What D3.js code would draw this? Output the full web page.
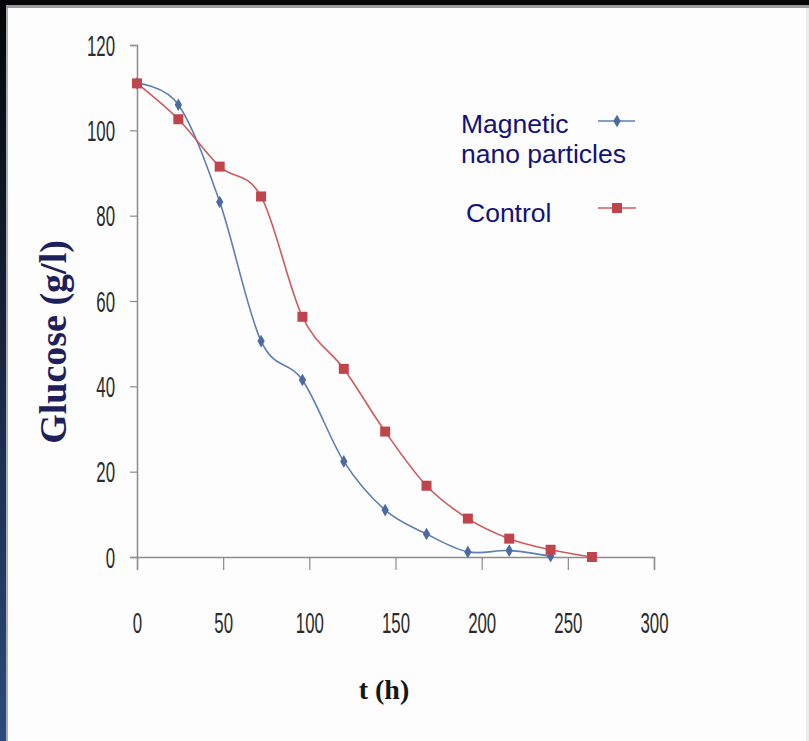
<!DOCTYPE html>
<html>
<head>
<meta charset="utf-8">
<script src="https://cdn.jsdelivr.net/npm/d3@7"></script>
<style>
  html, body { margin: 0; padding: 0; background: #ffffff; }
  svg { display: block; }
</style>
</head>
<body>
<svg id="chart" width="809" height="741"></svg>
<script>
// ---- data ----
const hoursMagnetic = [0, 24, 48, 72, 96, 120, 144, 168, 192, 216, 240];
const magnetic = [111, 106, 83.2, 50.6, 41.5, 22.4, 11, 5.4, 1.2, 1.5, 0.2];
const hoursControl = [0, 24, 48, 72, 96, 120, 144, 168, 192, 216, 240, 264];
const control = [111, 102.6, 91.5, 84.5, 56.3, 44.1, 29.4, 16.7, 9, 4.3, 1.7, 0];
const xTicks = [0, 50, 100, 150, 200, 250, 300];
const yTicks = [0, 20, 40, 60, 80, 100, 120];
const seriesNames = ["Magnetic", "nano particles", "Control"];

const svg = d3.select("#chart");
const W = 809, H = 741;

// ---- frame (slide border) ----
const defs = svg.append("defs");
const lg = defs.append("linearGradient").attr("id", "leftBand")
  .attr("x1", 0).attr("y1", 0).attr("x2", 0).attr("y2", 1);
lg.append("stop").attr("offset", "0%").attr("stop-color", "#050505");
lg.append("stop").attr("offset", "100%").attr("stop-color", "#2c4a7c");
svg.append("rect").attr("x", 0).attr("y", 0).attr("width", W).attr("height", H).attr("fill", "#fdfdfd");
svg.append("rect").attr("x", 0).attr("y", 0).attr("width", W).attr("height", 5).attr("fill", "#060606");
svg.append("rect").attr("x", 0).attr("y", 5).attr("width", W).attr("height", 3).attr("fill", "#9a9a9a");
svg.append("rect").attr("x", 0).attr("y", 0).attr("width", 6).attr("height", H).attr("fill", "url(#leftBand)");
svg.append("rect").attr("x", 6).attr("y", 8).attr("width", 2).attr("height", H - 8).attr("fill", "#a8adb5");
svg.append("rect").attr("x", 806).attr("y", 8).attr("width", 3).attr("height", H - 8).attr("fill", "#ececec");

// ---- scales ----
const x = d3.scaleLinear().domain([0, 300]).range([137, 654]);
const y = d3.scaleLinear().domain([0, 120]).range([557, 45]);
const axisColor = "#8c8c8c";
const sx = 0.58;

// y axis
const gy = svg.append("g").attr("transform", `translate(${x(0)},0)`)
  .call(d3.axisLeft(y).tickValues(yTicks).tickSize(7).tickFormat(d3.format("d")));
gy.select(".domain").attr("stroke", axisColor).attr("stroke-width", 1.5);
gy.selectAll(".tick line").attr("stroke", axisColor).attr("stroke-width", 1.2);
gy.selectAll(".tick text")
  .attr("font-family", "Liberation Sans, Arial, sans-serif")
  .attr("font-size", 29).attr("fill", "#2b2b2b")
  .attr("text-anchor", "end")
  .attr("x", -22 / sx).attr("dy", "0.35em")
  .attr("transform", `scale(${sx},1)`);

// x axis
const gx = svg.append("g").attr("transform", `translate(0,${y(0)})`)
  .call(d3.axisBottom(x).tickValues(xTicks).tickSize(13).tickFormat(d3.format("d")));
gx.select(".domain").attr("stroke", axisColor).attr("stroke-width", 1.5);
gx.selectAll(".tick line").attr("stroke", axisColor).attr("stroke-width", 1.2);
gx.selectAll(".tick text")
  .attr("font-family", "Liberation Sans, Arial, sans-serif")
  .attr("font-size", 29).attr("fill", "#2b2b2b")
  .attr("y", 55).attr("dy", "0.71em")
  .attr("transform", `scale(${sx},1)`);

// ---- lines ----
const line = d3.line().x(d => x(d[0])).y(d => y(d[1])).curve(d3.curveCardinal.tension(0));
const magData = hoursMagnetic.map((h, i) => [h, magnetic[i]]);
const conData = hoursControl.map((h, i) => [h, control[i]]);
const blue = "#5b7fb4", blueMk = "#4a6aa0";
const red = "#cf5a5e", redMk = "#c0444c";

svg.append("path").datum(magData).attr("d", line)
  .attr("fill", "none").attr("stroke", blue).attr("stroke-width", 1.6);
svg.append("path").datum(conData).attr("d", line)
  .attr("fill", "none").attr("stroke", red).attr("stroke-width", 1.6);

const diamond = d3.symbol().type(d3.symbolDiamond).size(46);
svg.append("g").selectAll("path").data(magData).join("path")
  .attr("d", diamond)
  .attr("transform", d => `translate(${x(d[0])},${y(d[1])})`)
  .attr("fill", blueMk);
svg.append("g").selectAll("rect").data(conData).join("rect")
  .attr("x", d => x(d[0]) - 5).attr("y", d => y(d[1]) - 5)
  .attr("width", 10).attr("height", 10).attr("fill", redMk);

// ---- legend ----
const legendColor = "#12127a";
const lgFont = "Liberation Sans, Arial, sans-serif";
svg.append("text").attr("x", 461).attr("y", 133).text(seriesNames[0])
  .attr("font-family", lgFont).attr("font-size", 26.5).attr("fill", legendColor);
svg.append("text").attr("x", 461).attr("y", 163).text(seriesNames[1])
  .attr("font-family", lgFont).attr("font-size", 26.5).attr("fill", legendColor);
svg.append("text").attr("x", 466).attr("y", 222).text(seriesNames[2])
  .attr("font-family", lgFont).attr("font-size", 26.5).attr("fill", legendColor);

svg.append("line").attr("x1", 598).attr("x2", 635).attr("y1", 121).attr("y2", 121)
  .attr("stroke", blue).attr("stroke-width", 1.6);
svg.append("path").attr("d", diamond).attr("transform", "translate(617,121)").attr("fill", blueMk);
svg.append("line").attr("x1", 598).attr("x2", 636).attr("y1", 208).attr("y2", 208)
  .attr("stroke", red).attr("stroke-width", 1.6);
svg.append("rect").attr("x", 612).attr("y", 203).attr("width", 10).attr("height", 10).attr("fill", redMk);

// ---- axis titles ----
svg.append("text").text("Glucose (g/l)")
  .attr("transform", "translate(66,342) rotate(-90)")
  .attr("text-anchor", "middle")
  .attr("font-family", "Liberation Serif, Times New Roman, serif")
  .attr("font-weight", "bold").attr("font-size", 38).attr("fill", "#1f1f5c");
svg.append("text").text("t (h)")
  .attr("x", 384).attr("y", 699)
  .attr("text-anchor", "middle")
  .attr("font-family", "Liberation Serif, Times New Roman, serif")
  .attr("font-weight", "bold").attr("font-size", 28).attr("fill", "#151515");
</script>
</body>
</html>
